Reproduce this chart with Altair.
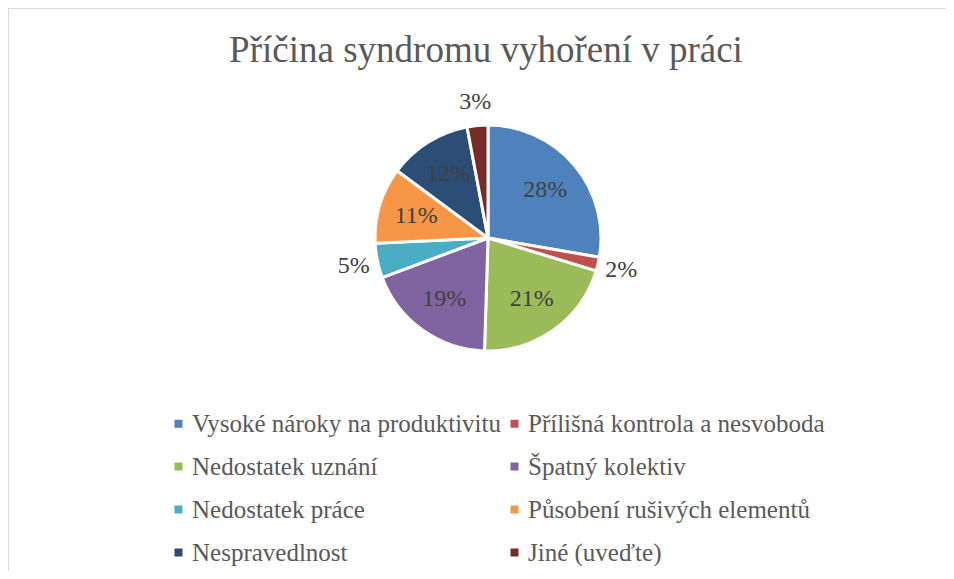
import altair as alt
import pandas as pd

categories = [
    "Vysoké nároky na produktivitu",
    "Přílišná kontrola a nesvoboda",
    "Nedostatek uznání",
    "Špatný kolektiv",
    "Nedostatek práce",
    "Působení rušivých elementů",
    "Nespravedlnost",
    "Jiné (uveďte)",
]
values = [28, 2, 21, 19, 5, 11, 12, 3]
colors = ["#4F81BD", "#C0504D", "#9BBB59", "#8064A2", "#4BACC6", "#F79646", "#2C4D75", "#772C2A"]

df = pd.DataFrame({
    "cat": categories,
    "value": values,
    "idx": list(range(len(categories))),
    "label": [f"{v}%" for v in values],
})

FONT = "Liberation Serif"
CX, CY = 480, 230

pie = alt.Chart(df).mark_arc(outerRadius=113, stroke="white", strokeWidth=3).encode(
    theta=alt.Theta("value:Q", stack=True),
    order=alt.Order("idx:Q"),
    x=alt.value(CX), y=alt.value(CY),
    color=alt.Color(
        "cat:N",
        scale=alt.Scale(domain=categories, range=colors),
        sort=None,
        legend=alt.Legend(
            title=None, orient="none", legendX=158, legendY=403, columns=2,
            direction="horizontal",
            symbolType="square", symbolSize=64, labelFont=FONT, labelFontSize=25,
            labelColor="#595959", rowPadding=17, columnPadding=1, labelOffset=1,
            padding=0, labelLimit=400, symbolStrokeWidth=0,
        ),
    ),
)

lab = alt.Chart(df).transform_joinaggregate(
    total="sum(value)"
).transform_window(
    cum="sum(value)", sort=[alt.SortField("idx")], frame=[None, 0]
).transform_calculate(
    mid="(datum.cum - datum.value / 2) / datum.total"
)

theta_mid = alt.Theta("mid:Q", scale=alt.Scale(domain=[0, 1]), stack=None)

inside = lab.transform_filter("datum.value >= 8").mark_text(
    radius=75, font=FONT, fontSize=24, color="#404040"
).encode(theta=theta_mid, x=alt.value(CX), y=alt.value(CY), text="label:N")

outside = lab.transform_filter("datum.value < 8").mark_text(
    radius=137, font=FONT, fontSize=24, color="#404040"
).encode(theta=theta_mid, x=alt.value(CX), y=alt.value(CY), text="label:N")

top_border = alt.Chart(df).mark_rule(color="#D9D9D9", strokeWidth=1.5).encode(
    x=alt.value(0), x2=alt.value(946), y=alt.value(0)
)
left_border = alt.Chart(df).mark_rule(color="#D9D9D9", strokeWidth=1.5).encode(
    x=alt.value(0), y=alt.value(0), y2=alt.value(571)
)

chart = alt.layer(pie, inside, outside, top_border, left_border).properties(
    width=938, height=563,
    autosize=alt.AutoSizeParams(type="none"),
    padding=0,
    title=alt.TitleParams(
        "Příčina syndromu vyhoření v práci", font=FONT, fontSize=37,
        fontWeight="normal", color="#595959", anchor="middle", dx=9, dy=67,
    ),
).resolve_scale(theta="independent").configure_view(stroke=None)

chart.save("out.html", embed_options={"renderer": "svg", "actions": False})
